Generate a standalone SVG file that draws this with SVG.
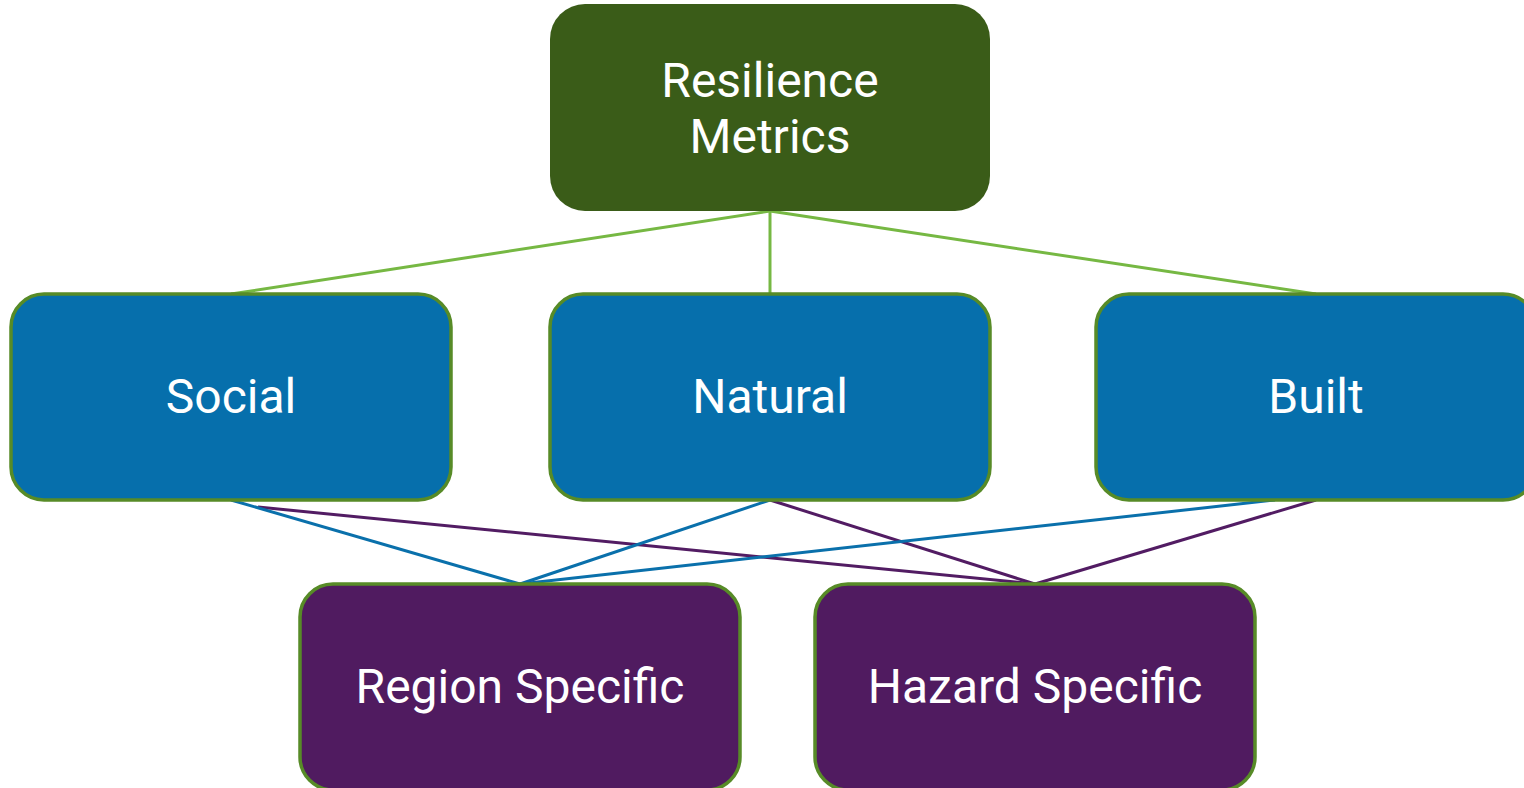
<svg xmlns="http://www.w3.org/2000/svg" width="1524" height="788" viewBox="0 0 1524 788">
<style>
.node text{font-family:Roboto,"Liberation Sans",sans-serif;font-size:48px;fill:#ffffff;text-anchor:middle}
.mid rect{fill:#066fac;stroke:#578b27;stroke-width:3.5}
.low rect{fill:#501b60;stroke:#578b27;stroke-width:3.5}
.g{stroke:#76b843;stroke-width:3;fill:none}
.b{stroke:#0a70ab;stroke-width:3;fill:none}
.p{stroke:#521c63;stroke-width:3;fill:none}
</style>
<rect width="1524" height="788" fill="#ffffff"/>
<g id="connectors">
<line class="g" x1="770" y1="211" x2="231" y2="294"/>
<line class="g" x1="770" y1="211" x2="770" y2="294"/>
<line class="g" x1="770" y1="211" x2="1316" y2="294"/>
<line class="p" x1="258" y1="507" x2="1035" y2="584"/>
<line class="p" x1="770" y1="500" x2="1035" y2="584"/>
<line class="p" x1="1316" y1="500" x2="1035" y2="584"/>
<line class="b" x1="231" y1="500" x2="520" y2="584"/>
<line class="b" x1="770" y1="500" x2="520" y2="584"/>
<line class="b" x1="1275" y1="500" x2="520" y2="584"/>
</g>
<g id="resilience" class="node">
<rect x="550" y="4" width="440" height="207" rx="35" fill="#3a5c18"/>
<text x="770" y="97">Resilience</text>
<text x="770" y="153">Metrics</text>
</g>
<g id="social" class="node mid">
<rect x="11" y="294" width="440" height="206" rx="33"/>
<text x="231" y="413">Social</text>
</g>
<g id="natural" class="node mid">
<rect x="550" y="294" width="440" height="206" rx="33"/>
<text x="770" y="413">Natural</text>
</g>
<g id="built" class="node mid">
<rect x="1096" y="294" width="440" height="206" rx="33"/>
<text x="1316" y="413">Built</text>
</g>
<g id="region" class="node low">
<rect x="300" y="584" width="440" height="206" rx="33"/>
<text x="520" y="703">Region Specific</text>
</g>
<g id="hazard" class="node low">
<rect x="815" y="584" width="440" height="206" rx="33"/>
<text x="1035" y="703">Hazard Specific</text>
</g>
</svg>
